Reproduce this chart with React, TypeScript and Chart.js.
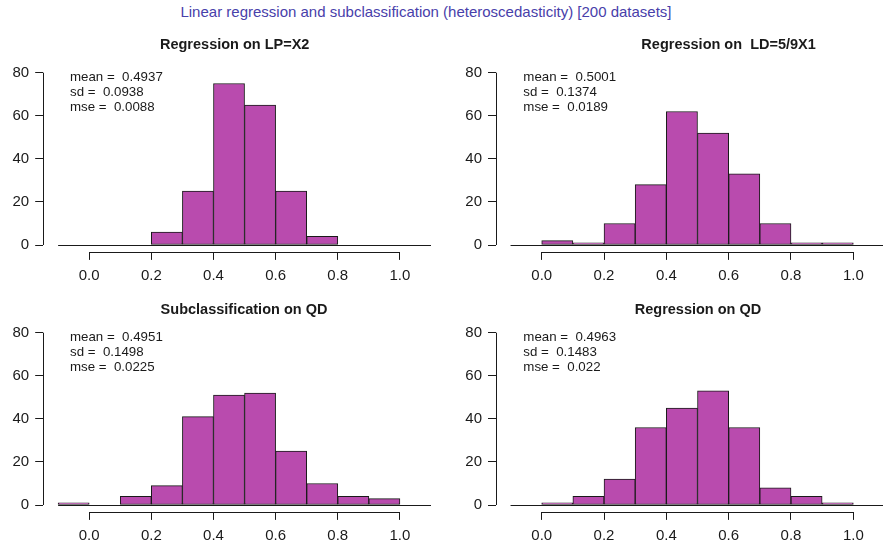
import React, { useEffect, useRef } from "react";
import { Chart, registerables } from "chart.js";

Chart.register(...registerables);

// ---------- data ----------
const mainTitle = "Linear regression and subclassification (heteroscedasticity) [200 datasets]";
const binStarts = [-0.1, 0.0, 0.1, 0.2, 0.3, 0.4, 0.5, 0.6, 0.7, 0.8, 0.9, 1.0];
const binWidth = 0.1;
const xTickValues = [0.0, 0.2, 0.4, 0.6, 0.8, 1.0];
const yTickValues = [0, 20, 40, 60, 80];

const countsLP = [0, 0, 0, 6, 25, 75, 65, 25, 4, 0, 0, 0];
const countsLD = [0, 2, 1, 10, 28, 62, 52, 33, 10, 1, 1, 0];
const countsSubQD = [1, 0, 4, 9, 41, 51, 52, 25, 10, 4, 3, 0];
const countsRegQD = [0, 1, 4, 12, 36, 45, 53, 36, 8, 4, 1, 0];

const panelTitles = ["Regression on LP=X2", "Regression on  LD=5/9X1", "Subclassification on QD", "Regression on QD"];
const statMeans = ["0.4937", "0.5001", "0.4951", "0.4963"];
const statSds = ["0.0938", "0.1374", "0.1498", "0.1483"];
const statMses = ["0.0088", "0.0189", "0.0225", "0.022"];

// ---------- style ----------
const FONT = '"Liberation Sans", Arial, Helvetica, sans-serif';
const BAR_FILL = "rgb(185,75,174)";
const BAR_EDGE = "#1a1a1a";
const INK = "#1a1a1a";
const TITLE_COLOR = "rgb(72,64,170)";

type Layout = {
  left: number; top: number; width: number; height: number;
  yAxisWidth: number; xAxisHeight: number; padTop: number; padRight: number;
  xMin: number; xMax: number; titleX: number; titleY: number; statX: number;
};

const layouts: Layout[] = [
  { left: 0, top: 30, width: 450, height: 260, yAxisWidth: 43.2, xAxisHeight: 38.1, padTop: 35.8, padRight: 4.1, xMin: -0.148, xMax: 1.148, titleX: 234.7, titleY: 19.3, statX: 70 },
  { left: 450, top: 30, width: 433, height: 260, yAxisWidth: 46, xAxisHeight: 38.1, padTop: 35.8, padRight: 0, xMin: -0.1467, xMax: 1.0953, titleX: 278.6, titleY: 19.3, statX: 73.3 },
  { left: 0, top: 290, width: 450, height: 253, yAxisWidth: 43.2, xAxisHeight: 31.1, padTop: 35.8, padRight: 4.1, xMin: -0.148, xMax: 1.148, titleX: 244, titleY: 24, statX: 70 },
  { left: 450, top: 290, width: 433, height: 253, yAxisWidth: 46, xAxisHeight: 31.1, padTop: 35.8, padRight: 0, xMin: -0.1467, xMax: 1.0953, titleX: 248, titleY: 24, statX: 73.3 },
];

const allCounts = [countsLP, countsLD, countsSubQD, countsRegQD];

function Panel({ idx }: { idx: number }) {
  const ref = useRef<HTMLCanvasElement | null>(null);
  const L = layouts[idx];
  useEffect(() => {
    if (!ref.current) return;
    const counts = allCounts[idx];
    const data = binStarts.map((s, i) => ({ x: s + binWidth / 2, y: counts[i] }));
    const rPlugin = {
      id: "rStyle",
      afterDraw(chart: any) {
        const ctx = chart.ctx;
        const xs = chart.scales.x;
        const ys = chart.scales.y;
        const area = chart.chartArea;
        ctx.save();
        ctx.strokeStyle = INK;
        ctx.lineWidth = 1;
        // baseline of histogram
        const y0 = Math.round(ys.getPixelForValue(0)) + 0.5;
        ctx.beginPath();
        ctx.moveTo(xs.getPixelForValue(binStarts[0]), y0);
        ctx.lineTo(xs.getPixelForValue(binStarts[binStarts.length - 1] + binWidth), y0);
        ctx.stroke();
        // y axis line
        const ax = Math.round(area.left) + 0.5;
        ctx.beginPath();
        ctx.moveTo(ax, ys.getPixelForValue(yTickValues[0]));
        ctx.lineTo(ax, ys.getPixelForValue(yTickValues[yTickValues.length - 1]));
        ctx.stroke();
        // x axis line
        const ay = Math.round(area.bottom) + 0.5;
        ctx.beginPath();
        ctx.moveTo(xs.getPixelForValue(xTickValues[0]), ay);
        ctx.lineTo(xs.getPixelForValue(xTickValues[xTickValues.length - 1]), ay);
        ctx.stroke();
        // panel title
        ctx.fillStyle = INK;
        ctx.font = `bold 14.5px ${FONT}`;
        ctx.textAlign = "center";
        ctx.textBaseline = "alphabetic";
        ctx.fillText(panelTitles[idx], L.titleX, L.titleY);
        // stats text
        ctx.font = `13.3px ${FONT}`;
        ctx.textAlign = "left";
        ctx.fillText(`mean =  ${statMeans[idx]}`, L.statX, 50.7);
        ctx.fillText(`sd =  ${statSds[idx]}`, L.statX, 65.7);
        ctx.fillText(`mse =  ${statMses[idx]}`, L.statX, 80.7);
        ctx.restore();
      },
    };
    const chart = new Chart(ref.current, {
      type: "bar",
      data: {
        datasets: [
          {
            data,
            backgroundColor: BAR_FILL,
            borderColor: BAR_EDGE,
            borderWidth: 1,
            borderSkipped: false,
            barPercentage: 1,
            categoryPercentage: 1,
          } as any,
        ],
      },
      options: {
        animation: false,
        responsive: false,
        maintainAspectRatio: false,
        events: [],
        layout: { padding: { left: 0, right: L.padRight, top: L.padTop, bottom: 0 } },
        plugins: { legend: { display: false }, tooltip: { enabled: false }, title: { display: false } },
        scales: {
          x: {
            type: "linear",
            min: L.xMin,
            max: L.xMax,
            offset: false,
            grid: { display: true, offset: false, drawOnChartArea: false, drawTicks: true, tickLength: 8, color: INK, lineWidth: 1 },
            border: { display: false },
            ticks: {
              color: INK,
              font: { family: FONT, size: 15 },
              padding: 7,
              autoSkip: false,
              maxRotation: 0,
              callback: (v: any) => Number(v).toFixed(1),
            },
            afterBuildTicks: (s: any) => { s.ticks = xTickValues.map((v) => ({ value: v })); },
            afterFit: (s: any) => { s.height = L.xAxisHeight; },
          },
          y: {
            type: "linear",
            min: -3.2,
            max: 83.2,
            grid: { display: true, drawOnChartArea: false, drawTicks: true, tickLength: 8, color: INK, lineWidth: 1 },
            border: { display: false },
            ticks: {
              color: INK,
              font: { family: FONT, size: 15 },
              padding: 6,
              autoSkip: false,
              callback: (v: any) => String(v),
            },
            afterBuildTicks: (s: any) => { s.ticks = yTickValues.map((v) => ({ value: v })); },
            afterFit: (s: any) => { s.width = L.yAxisWidth; },
          },
        },
      } as any,
      plugins: [rPlugin],
    });
    return () => chart.destroy();
  }, [idx]);
  return (
    <canvas
      ref={ref}
      width={L.width}
      height={L.height}
      style={{ position: "absolute", left: L.left, top: L.top, width: L.width, height: L.height, display: "block" }}
    />
  );
}

export default function App() {
  return (
    <div style={{ position: "fixed", left: 0, top: 0, width: 883, height: 543, background: "#fff", overflow: "hidden" }}>
      <div
        style={{
          position: "absolute",
          left: 0,
          top: 3,
          width: 852,
          textAlign: "center",
          fontFamily: FONT,
          fontSize: 15,
          lineHeight: "17px",
          color: TITLE_COLOR,
          whiteSpace: "pre",
        }}
      >
        {mainTitle}
      </div>
      {layouts.map((_, i) => (
        <Panel key={i} idx={i} />
      ))}
    </div>
  );
}
